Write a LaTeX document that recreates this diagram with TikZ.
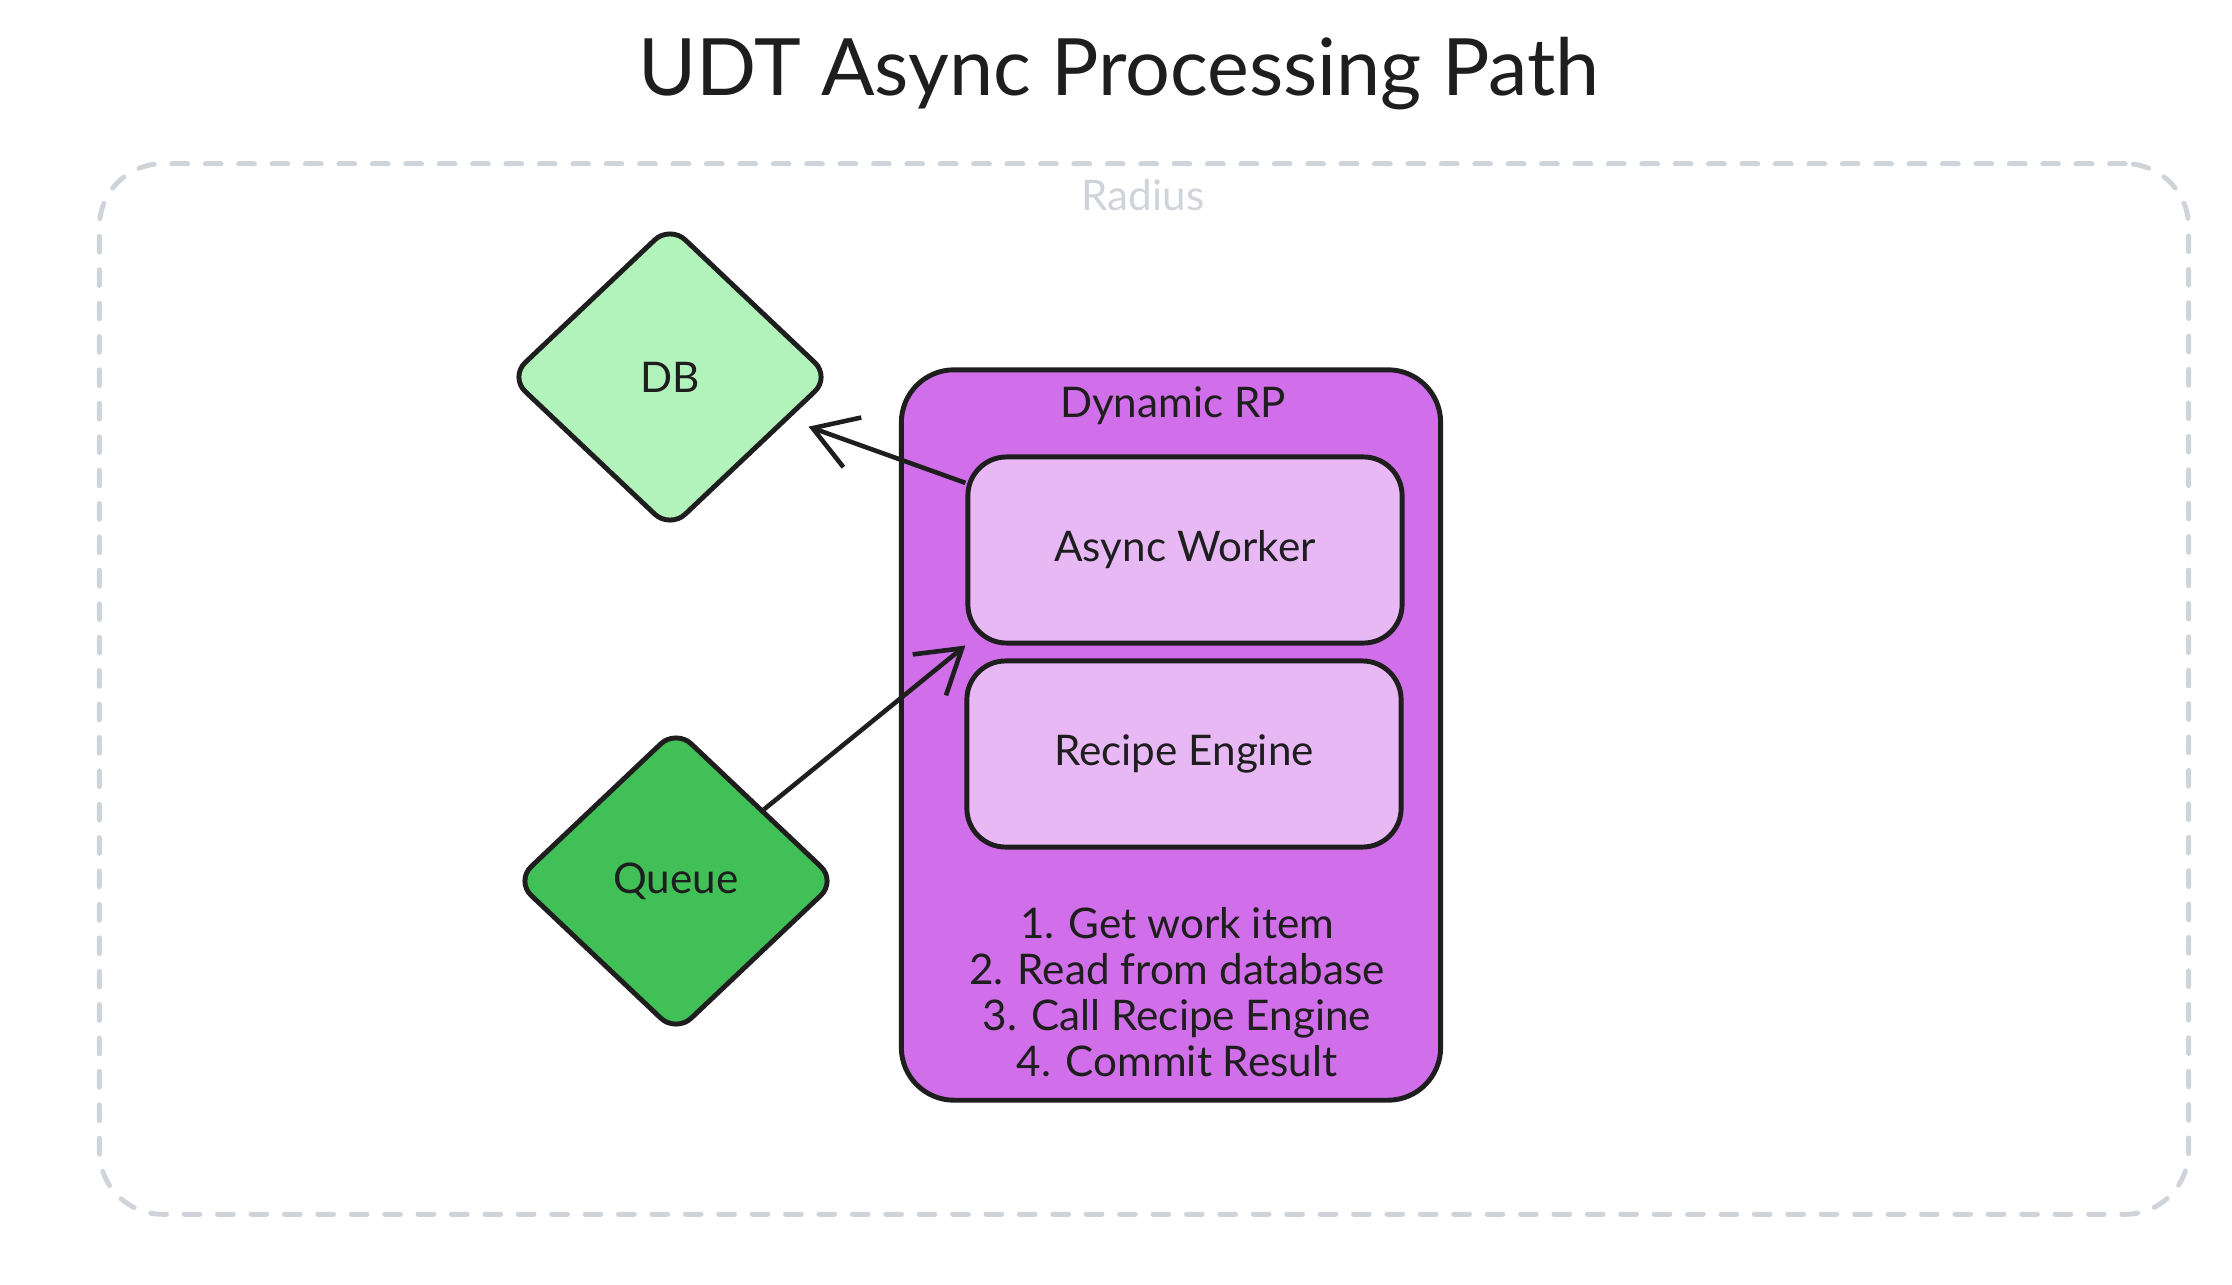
\documentclass[tikz,border=0pt]{standalone}
\usepackage{fontspec}
\setmainfont{Lato}
\usepackage{tikz}
\usetikzlibrary{arrows.meta,positioning,calc,shapes.geometric}
\definecolor{dbgreen}{HTML}{B2F2BB}
\definecolor{queuegreen}{HTML}{40C057}
\definecolor{rppurple}{HTML}{D16EE9}
\definecolor{partpurple}{HTML}{E8B8F5}
\definecolor{radiusgray}{HTML}{CED4DA}
\definecolor{ink}{HTML}{1E1E1E}
\tikzstyle{store}=[draw=ink,diamond,line width=1.4pt,rounded corners=6pt,inner sep=0pt,minimum width=3.22cm,minimum height=3.05cm,font=\fontsize{12}{14}\selectfont]
\tikzstyle{part}=[draw=ink,rectangle,line width=1.4pt,rounded corners=11pt,fill=partpurple,minimum width=4.34cm,minimum height=1.86cm,font=\fontsize{12}{14}\selectfont]
\tikzstyle{flow}=[draw=ink,line width=1.3pt,-{Straight Barb[length=12pt,width=15pt,line width=1.3pt]}]

\begin{document}
\begin{tikzpicture}[x=0.01cm,y=-0.01cm,text=ink]
\useasboundingbox (0,0) rectangle (2232,1284);
\node (title) at (1119,74) {\fontsize{22.5}{26}\selectfont UDT Async Processing Path};
% radius boundary
\node [draw=radiusgray,line width=1.4pt,dash pattern=on 4.5pt off 5pt,line cap=round,rounded corners=18pt,minimum width=20.88cm,minimum height=10.50cm] (radius) at (1144,689) {};
\node [text=radiusgray,font=\fontsize{12}{14}\selectfont] (radiuslabel) at (1143,195) {Radius};
% dynamic rp
\node [draw=ink,line width=1.4pt,rounded corners=15pt,fill=rppurple,minimum width=5.39cm,minimum height=7.30cm] (rp) at (1171,735) {};
\node [font=\fontsize{12}{14}\selectfont] (rplabel) at (1173,406) {Dynamic RP};
\node [part] (worker) at (1185,550) {Async Worker};
\node [part] (engine) at (1184,754) {Recipe Engine};
\node [align=center,font=\fontsize{12}{13.1}\selectfont] (steps) at (1177,992) {1. Get work item\\2. Read from database\\3. Call Recipe Engine\\4. Commit Result};
% stores
\node [store,fill=dbgreen] (db) at (670,377) {DB};
\node [store,fill=queuegreen] (queue) at (676,881) {Queue};
\draw [flow,shorten >=6pt] (worker.163) -- (db);
\draw [flow] (queue) -- (worker.south west);
\end{tikzpicture}
\end{document}
